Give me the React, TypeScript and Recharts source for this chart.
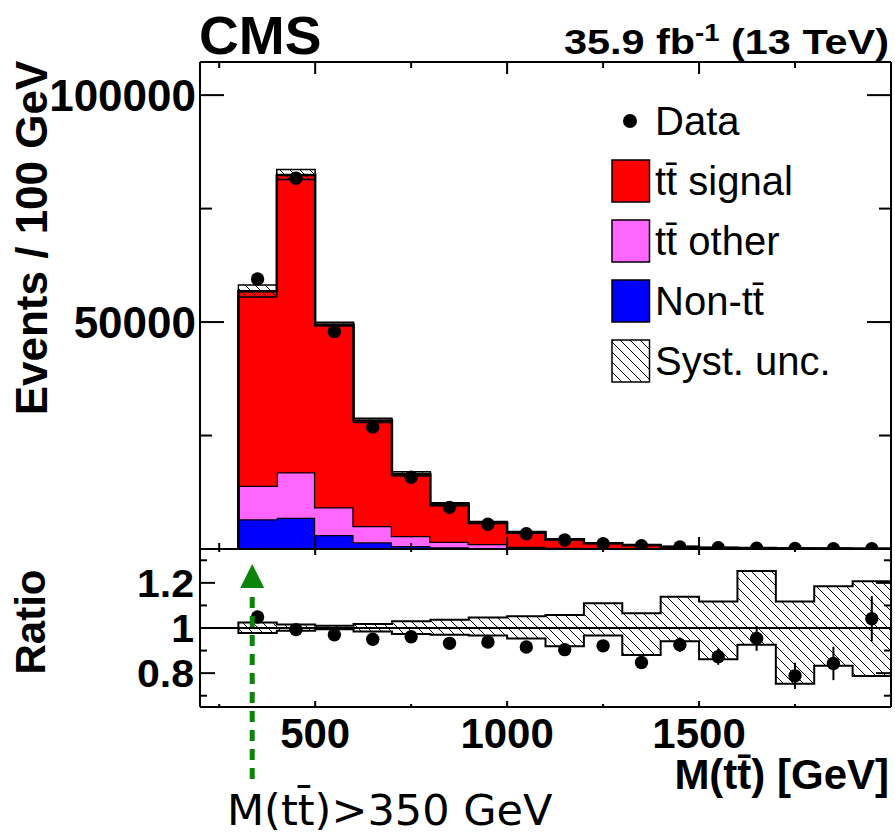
import React from 'react';
import { ComposedChart, Area, Scatter, XAxis, YAxis, ReferenceLine, ErrorBar } from 'recharts';

// bins of 100 GeV, lower edges
const binLow = [300, 400, 500, 600, 700, 800, 900, 1000, 1100, 1200, 1300, 1400, 1500, 1600, 1700, 1800, 1900];
const BIN_WIDTH = 100;

// stacked expectation (events / 100 GeV)
const nonTT = [6540, 6900, 3080, 1470, 660, 370, 200, 120, 70, 40, 25, 15, 10, 6, 4, 3, 2];
const ttOther = [7410, 10000, 6100, 3600, 2200, 1240, 900, 380, 230, 140, 90, 55, 35, 22, 15, 10, 7];
const ttSignal = [42850, 65500, 40270, 23230, 13660, 8240, 4700, 3170, 1840, 1070, 765, 430, 255, 172, 111, 77, 51];

// observed
const dataCounts = [59500, 81700, 47900, 26900, 15800, 9180, 5440, 3360, 1980, 1150, 745, 463, 262, 191, 102, 76, 62];

// ratio panel
const ratioVals = [1.049, 0.993, 0.97, 0.95, 0.961, 0.932, 0.938, 0.916, 0.904, 0.921, 0.847, 0.926, 0.873, 0.954, 0.788, 0.843, 1.041];
const ratioErr = [0.004, 0.004, 0.005, 0.006, 0.008, 0.011, 0.014, 0.017, 0.021, 0.025, 0.028, 0.032, 0.036, 0.055, 0.058, 0.074, 0.1];
const systUp = [1.024, 1.015, 1.01, 1.018, 1.03, 1.036, 1.046, 1.052, 1.058, 1.11, 1.065, 1.138, 1.117, 1.253, 1.117, 1.185, 1.207];
const systDn = [0.978, 0.988, 0.994, 0.985, 0.973, 0.97, 0.967, 0.953, 0.919, 0.967, 0.88, 0.941, 0.861, 0.926, 0.753, 0.833, 0.787];

// axes
const xTicks = [250, 500, 750, 1000, 1250, 1500, 1750];
const yTicks = [25000, 50000, 75000, 100000];
const ratioTicks = [0.7, 0.8, 0.9, 1, 1.1, 1.2, 1.3];
const X_DOMAIN: [number, number] = [200, 2000];
const Y_DOMAIN: [number, number] = [0, 107300];
const R_DOMAIN: [number, number] = [0.65, 1.35];
const CUT_VALUE = 336; // where the arrow is drawn

const FONT = "'Liberation Sans', Arial, Helvetica, sans-serif";
const RED = '#ff0000';
const PINK = '#ff66ff';
const BLUE = '#0000ff';
const GREEN = '#0a850a';

// step tables built from the bins
const total = binLow.map((_, i) => nonTT[i] + ttOther[i] + ttSignal[i]);
const lastI = binLow.length - 1;
const lastEdge = binLow[lastI] + BIN_WIDTH;

const stackRows = [
  { x: binLow[0], non: 0, oth: 0, sig: 0, band: [0, 0] },
  ...binLow.map((x, i) => ({
    x,
    non: nonTT[i],
    oth: ttOther[i],
    sig: ttSignal[i],
    band: [total[i] * systDn[i], total[i] * systUp[i]],
  })),
  { x: lastEdge, non: nonTT[lastI], oth: ttOther[lastI], sig: ttSignal[lastI], band: [total[lastI] * systDn[lastI], total[lastI] * systUp[lastI]] },
  { x: lastEdge, non: 0, oth: 0, sig: 0, band: [0, 0] },
];

const dataPoints = binLow.map((x, i) => ({ x: x + BIN_WIDTH / 2, count: dataCounts[i] }));

const ratioRows = [
  { x: binLow[0], band: [1, 1] },
  ...binLow.map((x, i) => ({ x, band: [systDn[i], systUp[i]] })),
  { x: lastEdge, band: [systDn[lastI], systUp[lastI]] },
  { x: lastEdge, band: [1, 1] },
];

const ratioPoints = binLow.map((x, i) => ({ x: x + BIN_WIDTH / 2, r: ratioVals[i], err: ratioErr[i] }));

const isXMajor = (v: number) => v % 500 === 0;

// ticks are drawn inward, ROOT style
const xTick = (dir: number, major: number, minor: number, label: boolean) => (p: any) => {
  const v = p.payload.value;
  const big = isXMajor(v);
  return (
    <g>
      <line x1={p.x} x2={p.x} y1={p.y} y2={p.y + dir * (big ? major : minor)} stroke="#000" strokeWidth={2} />
      {label && big && (
        <text x={p.x} y={p.y + 41} textAnchor="middle" fontFamily={FONT} fontWeight="bold" fontSize={42} fill="#000">
          {v}
        </text>
      )}
    </g>
  );
};

const countTick = (dir: number, label: boolean) => (p: any) => {
  const v = p.payload.value;
  const big = v % 50000 === 0;
  return (
    <g>
      <line x1={p.x} x2={p.x + dir * (big ? 24 : 12)} y1={p.y} y2={p.y} stroke="#000" strokeWidth={2} />
      {label && big && (
        <text x={p.x - 4} y={p.y + 16} textAnchor="end" fontFamily={FONT} fontWeight="bold" fontSize={44} fill="#000">
          {v}
        </text>
      )}
    </g>
  );
};

const ratioTick = (dir: number, label: boolean) => (p: any) => {
  const v = p.payload.value;
  const big = Math.round(v * 10) % 2 === 0;
  return (
    <g>
      <line x1={p.x} x2={p.x + dir * (big ? 15 : 7)} y1={p.y} y2={p.y} stroke="#000" strokeWidth={2} />
      {label && big && (
        <text
          transform={`translate(${p.x - 6},${p.y + 14}) scale(1.08,1)`}
          textAnchor="end"
          fontFamily={FONT}
          fontWeight="bold"
          fontSize={38}
          fill="#000"
        >
          {v === 1 ? '1' : v.toFixed(1)}
        </text>
      )}
    </g>
  );
};

const dot = (r: number) => (p: any) => <circle cx={p.cx} cy={p.cy} r={r} fill="#000" />;

const hatch = (id: string) => (
  <defs>
    <pattern id={id} patternUnits="userSpaceOnUse" width={10} height={10}>
      <path d="M-5,5 L5,15 M0,0 L10,10 M5,-5 L15,5" stroke="#000" strokeWidth={1} />
    </pattern>
  </defs>
);

const frame = { stroke: '#000', strokeWidth: 2 };

const TopPanel = () => (
  <ComposedChart width={895} height={560} data={stackRows} margin={{ top: 0, right: 0, bottom: 0, left: 0 }}>
    {hatch('hatchTop')}
    <XAxis xAxisId="b" dataKey="x" type="number" domain={X_DOMAIN} allowDataOverflow ticks={xTicks} interval={0}
      height={11} axisLine={frame} tickLine={false} tickSize={0} tickMargin={0} tick={xTick(-1, 12, 6, false)} />
    <XAxis xAxisId="t" dataKey="x" type="number" orientation="top" domain={X_DOMAIN} allowDataOverflow ticks={xTicks} interval={0}
      height={62} axisLine={frame} tickLine={false} tickSize={0} tickMargin={0} tick={xTick(1, 12, 6, false)} />
    <YAxis yAxisId="l" type="number" domain={Y_DOMAIN} allowDataOverflow ticks={yTicks} interval={0} width={200}
      axisLine={frame} tickLine={false} tickSize={0} tickMargin={0} tick={countTick(1, true)} />
    <YAxis yAxisId="r" orientation="right" type="number" domain={Y_DOMAIN} allowDataOverflow ticks={yTicks} interval={0} width={4}
      axisLine={frame} tickLine={false} tickSize={0} tickMargin={0} tick={countTick(-1, false)} />
    <Area xAxisId="b" yAxisId="l" type="stepAfter" dataKey="non" stackId="mc" fill={BLUE} fillOpacity={1}
      stroke="#000" strokeWidth={2.5} isAnimationActive={false} />
    <Area xAxisId="b" yAxisId="l" type="stepAfter" dataKey="oth" stackId="mc" fill={PINK} fillOpacity={1}
      stroke="#000" strokeWidth={2.5} isAnimationActive={false} />
    <Area xAxisId="b" yAxisId="l" type="stepAfter" dataKey="sig" stackId="mc" fill={RED} fillOpacity={1}
      stroke="#000" strokeWidth={2.5} isAnimationActive={false} />
    <Area xAxisId="b" yAxisId="l" type="stepAfter" dataKey="band" fill="url(#hatchTop)" fillOpacity={1}
      stroke="#000" strokeWidth={1.5} isAnimationActive={false} />
    <Scatter xAxisId="b" yAxisId="l" data={dataPoints} dataKey="count" shape={dot(6.7)} isAnimationActive={false} />
  </ComposedChart>
);

const RatioPanel = () => (
  <ComposedChart width={895} height={240} data={ratioRows} margin={{ top: 0, right: 0, bottom: 0, left: 0 }}>
    {hatch('hatchRatio')}
    <XAxis xAxisId="b" dataKey="x" type="number" domain={X_DOMAIN} allowDataOverflow ticks={xTicks} interval={0}
      height={73} axisLine={frame} tickLine={false} tickSize={0} tickMargin={0} tick={xTick(-1, 6, 3, true)} />
    <XAxis xAxisId="t" dataKey="x" type="number" orientation="top" domain={X_DOMAIN} allowDataOverflow ticks={xTicks} interval={0}
      height={9} axisLine={frame} tickLine={false} tickSize={0} tickMargin={0} tick={xTick(1, 6, 3, false)} />
    <YAxis yAxisId="l" type="number" domain={R_DOMAIN} allowDataOverflow ticks={ratioTicks} interval={0} width={200}
      axisLine={frame} tickLine={false} tickSize={0} tickMargin={0} tick={ratioTick(1, true)} />
    <YAxis yAxisId="r" orientation="right" type="number" domain={R_DOMAIN} allowDataOverflow ticks={ratioTicks} interval={0} width={4}
      axisLine={frame} tickLine={false} tickSize={0} tickMargin={0} tick={ratioTick(-1, false)} />
    <Area xAxisId="b" yAxisId="l" type="stepAfter" dataKey="band" fill="url(#hatchRatio)" fillOpacity={1}
      stroke="#000" strokeWidth={2} isAnimationActive={false} />
    <ReferenceLine xAxisId="b" yAxisId="l" y={1} stroke="#000" strokeWidth={2} />
    <Scatter xAxisId="b" yAxisId="l" data={ratioPoints} dataKey="r" shape={dot(6.7)} isAnimationActive={false}>
      <ErrorBar dataKey="err" direction="y" width={0} stroke="#000" strokeWidth={2} isAnimationActive={false} />
    </Scatter>
  </ComposedChart>
);

const legendRows = [
  { label: 'tt\u0304 signal', fill: RED },
  { label: 'tt\u0304 other', fill: PINK },
  { label: 'Non-tt\u0304', fill: BLUE },
  { label: 'Syst. unc.', fill: 'url(#hatchLegend)' },
];

const cutPx = 200 + ((CUT_VALUE - X_DOMAIN[0]) / (X_DOMAIN[1] - X_DOMAIN[0])) * 691;

const Overlay = () => (
  <svg width={895} height={834} style={{ position: 'absolute', left: 0, top: 0, pointerEvents: 'none' }}>
    {hatch('hatchLegend')}
    <text transform="translate(199,54) scale(1.04,1)" fontFamily={FONT} fontWeight="bold" fontSize={53} fill="#000">CMS</text>
    <text transform="translate(889,54) scale(1.15,1)" textAnchor="end" fontFamily={FONT} fontWeight="bold" fontSize={36} fill="#000">
      35.9 fb<tspan dy={-13} fontSize={24}>-1</tspan><tspan dy={13}> (13 TeV)</tspan>
    </text>
    <text transform="translate(47,238) rotate(-90)" textAnchor="middle" fontFamily={FONT} fontWeight="bold" fontSize={44} fill="#000">
      Events / 100 GeV
    </text>
    <text transform="translate(45,622) rotate(-90)" textAnchor="middle" fontFamily={FONT} fontWeight="bold" fontSize={42} fill="#000">
      Ratio
    </text>
    <text x={889} y={789} textAnchor="end" fontFamily={FONT} fontWeight="bold" fontSize={42} fill="#000">
      M(tt{'\u0304'}) [GeV]
    </text>

    {/* legend */}
    <circle cx={630} cy={121} r={7} fill="#000" />
    <text x={655} y={135} fontFamily={FONT} fontSize={40} fill="#000">Data</text>
    {legendRows.map((row, i) => {
      const cy = 181 + i * 60;
      return (
        <g key={row.label}>
          <rect x={612} y={cy - 21} width={37.5} height={42} fill={row.fill} stroke="#000" strokeWidth={1.5} />
          <text x={655} y={cy + 14} fontFamily={FONT} fontSize={40} fill="#000">{row.label}</text>
        </g>
      );
    })}

    {/* selection arrow */}
    <polygon points={`${cutPx},564 ${cutPx - 12},588 ${cutPx + 12},588`} fill={GREEN} />
    <line x1={cutPx} x2={cutPx} y1={597} y2={780} stroke={GREEN} strokeWidth={5} strokeDasharray="11 8" />
    <text x={227} y={825} fontFamily="'DejaVu Sans', sans-serif" fontSize={43} fill="#000">
      M(tt{'\u0304'})&gt;350 GeV
    </text>
  </svg>
);

export default function App() {
  return (
    <div style={{ position: 'absolute', left: 0, top: 0, width: 895, height: 834, background: '#fff' }}>
      <div style={{ position: 'absolute', left: 0, top: 0 }}>
        <TopPanel />
      </div>
      <div style={{ position: 'absolute', left: 0, top: 540 }}>
        <RatioPanel />
      </div>
      <Overlay />
    </div>
  );
}
